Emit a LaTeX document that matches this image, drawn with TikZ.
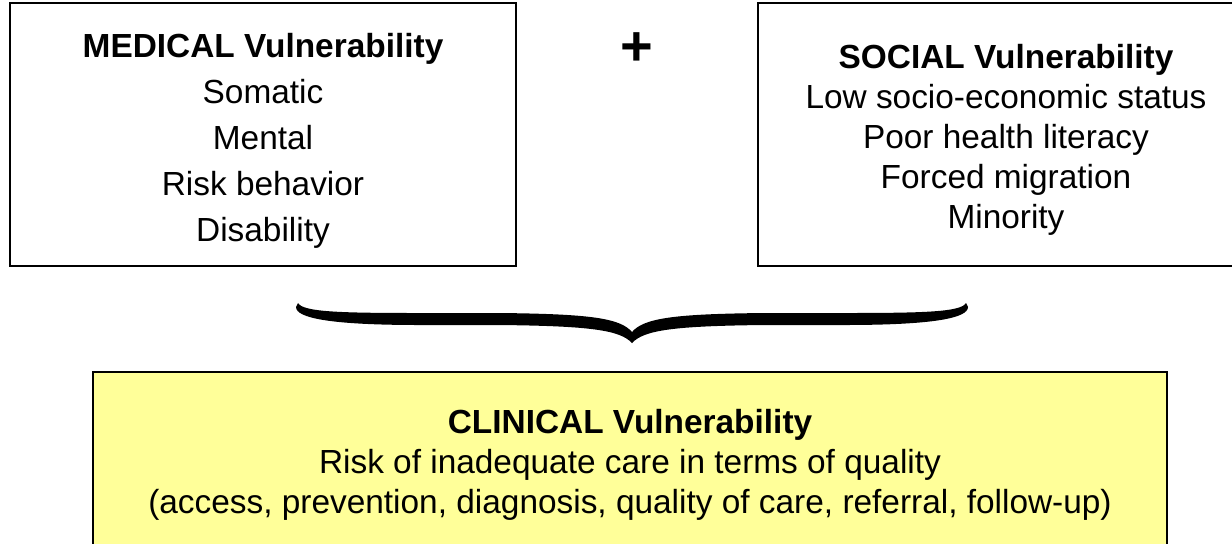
\documentclass[tikz,border=0pt]{standalone}
\usepackage{fontspec}
\setmainfont{Liberation Sans}
\definecolor{paleyellow}{HTML}{FFFF99}

\begin{document}
\begin{tikzpicture}[x=0.5pt,y=-0.5pt,
   vbox/.style={draw=black,line width=1pt,inner sep=0pt},
   vtext/.style={anchor=north,align=center,inner sep=0pt}]
   \useasboundingbox (0,0) rectangle (1232,543);
   \clip (0,0) rectangle (1232,543);
   % the two upper boxes
   \node[vbox,minimum width=253pt,minimum height=131.5pt] (medical) at (263,134.5) {};
   \node[vbox,minimum width=248pt,minimum height=131.5pt] (social) at (1006,134.5) {};
   \node[vtext,font=\fontsize{16.7}{23}\selectfont] (medtext) at (263,33)
      {\textbf{MEDICAL Vulnerability}\\Somatic\\Mental\\Risk behavior\\Disability};
   \node[vtext,font=\fontsize{16.7}{20}\selectfont] (soctext) at (1006,44)
      {\textbf{SOCIAL Vulnerability}\\Low socio-economic status\\Poor health literacy\\Forced migration\\Minority};
   \node[font=\bfseries\fontsize{28}{30}\selectfont,inner sep=0pt] (plus) at (637,49) {+};
   % the brace
   \foreach \s in {1,-1}
      \fill[black,shift={(632,0)},xscale=\s]
         (-334,303) .. controls (-329,312) and (-292,313) .. (-212,313)
         -- (-132,313) .. controls (-42,314) and (-12,318) .. (0,332)
         -- (0,343) .. controls (-12,330) and (-42,326) .. (-132,325)
         -- (-212,325) .. controls (-302,325) and (-336,318) .. (-336,307) -- cycle;
   % the lower box
   \node[vbox,fill=paleyellow,minimum width=537pt,minimum height=104pt] (clinical) at (630,476) {};
   \node[vtext,font=\fontsize{16.7}{20}\selectfont] (clintext) at (630,409)
      {\textbf{CLINICAL Vulnerability}\\Risk of inadequate care in terms of quality\\(access, prevention, diagnosis, quality of care, referral, follow-up)};
\end{tikzpicture}
\end{document}
